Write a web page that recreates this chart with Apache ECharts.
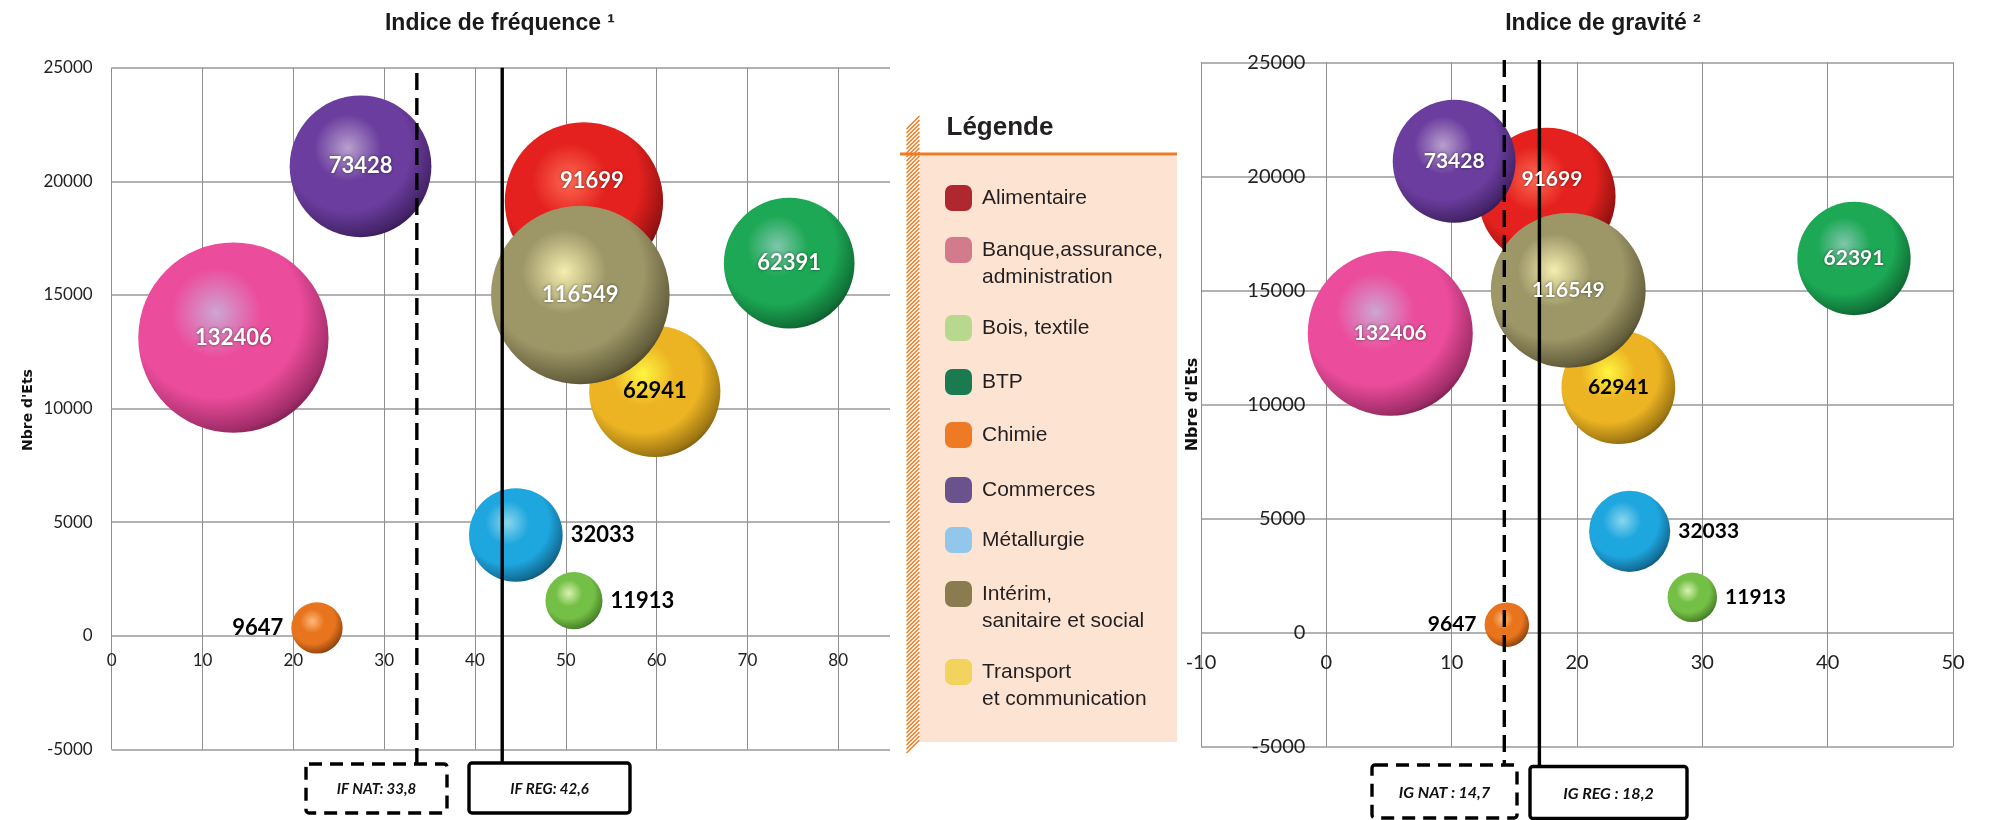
<!DOCTYPE html>
<html>
<head>
<meta charset="utf-8">
<title>Indice de fréquence / Indice de gravité</title>
<script src="https://cdn.jsdelivr.net/npm/echarts@6/dist/echarts.min.js"></script>
<style>
html, body { margin: 0; padding: 0; background: #ffffff; }
#chart { width: 1989px; height: 820px; }
</style>
</head>
<body>
<div id="chart"></div>
<script>
// secteurs, dans l'ordre de la légende
const secteurs = ['Alimentaire', 'Banque,assurance, administration', 'Bois, textile', 'BTP', 'Chimie', 'Commerces', 'Métallurgie', 'Intérim, sanitaire et social', 'Transport et communication']
const libellesLegende = ['Alimentaire', 'Banque,assurance,\nadministration', 'Bois, textile', 'BTP', 'Chimie', 'Commerces', 'Métallurgie', 'Intérim,\nsanitaire et social', 'Transport\net communication']
// taille des bulles (valeur affichée)
const effectifs = [91699, 132406, 11913, 62391, 9647, 73428, 32033, 116549, 62941]
// axe vertical : Nbre d'Ets
const nbEts = [19120, 13120, 1550, 16400, 350, 20660, 4440, 15000, 10760]
// axe horizontal de chaque graphique
const indiceFrequence = [52.0, 13.4, 50.9, 74.6, 22.6, 27.4, 44.5, 51.6, 59.8]
const indiceGravite = [17.6, 5.1, 29.2, 42.1, 14.4, 10.2, 24.2, 19.3, 23.3]
// lignes de référence (nationale, régionale) telles que tracées, et leurs étiquettes
const lignesIF = [33.6, 43.0]
const lignesIG = [14.2, 17.0]
const etiquettesIF = ['IF NAT: 33,8', 'IF REG: 42,6']
const etiquettesIG = ['IG NAT : 14,7', 'IG REG : 18,2']
// graduations
const ticksY = [-5000, 0, 5000, 10000, 15000, 20000, 25000]
const ticksIF = [0, 10, 20, 30, 40, 50, 60, 70, 80]
const ticksIG = [-10, 0, 10, 20, 30, 40, 50]
const maxIF = 85.7

// couleurs
const couleursLegende = ['#B0282F', '#D27B8C', '#B8D98D', '#1A7B50', '#EE7A26', '#6A538C', '#92C6EA', '#8A7B50', '#F2D35E']
const sphere = [ // reflet, base, ombre
	['#FF6A55', '#E4211E', '#300000'],
	['#CDA6D3', '#EC4C9C', '#420628'],
	['#D8F2B0', '#74BF46', '#1E400A'],
	['#7FC6AC', '#1CA854', '#022C14'],
	['#FFB878', '#E8741D', '#401600'],
	['#B8A0CC', '#6B3D9F', '#160628'],
	['#8AD6EC', '#1EA6DF', '#042438'],
	['#F4EEB0', '#9D9667', '#1E1A08'],
	['#FFF640', '#ECB423', '#402C00'],
]
// ordre de dessin (les dernières bulles passent devant)
const ordre = [4, 2, 6, 3, 1, 0, 5, 8, 7]
// étiquettes des bulles
const placement = ['inside', 'inside', 'right', 'inside', 'left', 'inside', 'right', 'inside', 'inside']
const blanc = [true, true, false, true, false, true, false, true, false]

// zones de tracé
const zones = [
	{ left: 111.7, top: 67.7, width: 778.3, height: 681.8 },
	{ left: 1201, top: 62.3, width: 752, height: 684.4 },
]

let myChart = echarts.init(document.getElementById('chart'))

function boule(i) {
	const s = sphere[i]
	return new echarts.graphic.RadialGradient(0.41, 0.37, 0.74, [
		{ offset: 0, color: s[0] },
		{ offset: 0.32, color: s[1] },
		{ offset: 0.6, color: s[1] },
		{ offset: 0.84, color: echarts.color.lerp(0.45, [s[1], s[2]]) },
		{ offset: 1, color: s[2] },
	])
}

function donnees(xs, taille, decalage, etiquettes) {
	return ordre.map(function (i) {
		return {
			name: secteurs[i],
			value: [xs[i], nbEts[i], effectifs[i]],
			itemStyle: { color: etiquettes ? 'rgba(0,0,0,0)' : boule(i), opacity: 1 },
			label: {
				show: etiquettes,
				position: placement[i],
				distance: 8,
				offset: i === 0 ? decalage : [0, 0],
				color: blanc[i] ? '#ffffff' : '#000000',
				textShadowColor: blanc[i] ? 'rgba(0,0,0,0.55)' : 'transparent',
				textShadowBlur: blanc[i] ? 3 : 0,
				fontSize: taille,
			},
		}
	})
}

// bulles, puis une seconde couche pour les étiquettes (au-dessus des lignes)
function bulles(gi, xs, k, taille, decalage, etiquettes) {
	return {
		type: 'scatter',
		xAxisIndex: gi,
		yAxisIndex: gi,
		symbol: 'circle',
		symbolSize: function (val) { return k * Math.sqrt(val[2]) },
		data: donnees(xs, taille, decalage, etiquettes),
		label: {
			fontFamily: 'Lato',
			fontWeight: 'bold',
			formatter: function (p) { return String(p.value[2]) },
		},
		emphasis: { disabled: true },
		silent: etiquettes,
		z: etiquettes ? 8 : 2,
	}
}

// lignes verticales de référence, prolongées jusqu'aux cadres
function lignes(gi, xs, hauts, prolonge) {
	return {
		type: 'custom',
		xAxisIndex: gi,
		yAxisIndex: gi,
		clip: false,
		silent: true,
		z: 5,
		data: xs.map(function (x, j) { return [x, hauts[j], j] }),
		renderItem: function (params, api) {
			const j = api.value(2)
			const haut = api.coord([api.value(0), api.value(1)])
			const bas = api.coord([api.value(0), ticksY[0]])
			return {
				type: 'line',
				shape: { x1: haut[0], y1: haut[1], x2: haut[0], y2: bas[1] + prolonge[j] },
				style: { stroke: '#000', lineWidth: 3.4, lineDash: j === 0 ? [17, 8] : null },
			}
		},
	}
}

// les étiquettes des axes passent par le zéro de l'autre axe
const yMin = ticksY[0], yMax = ticksY[ticksY.length - 1]
function axeX(gi, ticks, max, taille, marge) {
	const z = zones[gi]
	const horsMax = max !== ticks[ticks.length - 1]
	return {
		gridIndex: gi,
		type: 'value',
		min: ticks[0],
		max: max,
		interval: 10,
		position: 'bottom',
		offset: -z.height * (0 - yMin) / (yMax - yMin),
		axisLine: { show: false, onZero: false },
		axisTick: { show: false },
		axisLabel: { showMaxLabel: !horsMax, margin: marge, fontFamily: 'Lato', fontSize: taille, color: '#222' },
		splitLine: { show: true, showMaxLine: !horsMax, lineStyle: { color: '#8E8E8E', width: 1 } },
	}
}

function axeY(gi, xMin, xMax, taille, marge) {
	const z = zones[gi]
	return {
		gridIndex: gi,
		type: 'value',
		min: yMin,
		max: yMax,
		interval: 5000,
		position: 'left',
		offset: -z.width * (0 - xMin) / (xMax - xMin),
		axisLine: { show: false, onZero: false },
		axisTick: { show: false },
		axisLabel: { margin: marge, fontFamily: 'Lato', fontSize: taille, color: '#222', formatter: function (v) { return String(v) } },
		splitLine: { show: true, lineStyle: { color: '#B2B2B2', width: 2 } },
	}
}

// légende dessinée à la main
let graphique = []
for (let y = 116; y < 742; y += 4) {
	graphique.push({ type: 'line', shape: { x1: 906.5, y1: y + 13, x2: 919.5, y2: y }, style: { stroke: '#F07B22', lineWidth: 1.5 } })
}
graphique.push(
	{ type: 'rect', shape: { x: 920, y: 155.5, width: 257, height: 586.5 }, style: { fill: '#FDE4D2' } },
	{ type: 'line', shape: { x1: 900, y1: 154, x2: 1177, y2: 154 }, style: { stroke: '#F07B22', lineWidth: 3 } },
	{ type: 'text', x: 946.5, y: 128, style: { text: 'Légende', fontFamily: 'Liberation Sans', fontWeight: 'bold', fontSize: 26, fill: '#231F20', align: 'left', verticalAlign: 'middle' } }
)
const centresLegende = [198, 250, 328, 382, 435, 490, 540, 594, 672]
libellesLegende.forEach(function (lib, i) {
	const cy = centresLegende[i]
	graphique.push(
		{ type: 'rect', shape: { x: 945, y: cy - 13, width: 27, height: 26, r: 7 }, style: { fill: couleursLegende[i] } },
		{ type: 'text', x: 982, y: cy - 13.5, style: { text: lib, fontFamily: 'Liberation Sans', fontSize: 21, lineHeight: 27, fill: '#231F20', align: 'left', verticalAlign: 'top' } }
	)
})

// titres et noms d'axes
graphique.push(
	{ type: 'text', x: 500, y: 24, style: { text: 'Indice de fréquence ¹', fontFamily: 'Liberation Sans', fontWeight: 'bold', fontSize: 23, fill: '#1A1A1A', align: 'center', verticalAlign: 'middle' } },
	{ type: 'text', x: 1603, y: 24, style: { text: 'Indice de gravité ²', fontFamily: 'Liberation Sans', fontWeight: 'bold', fontSize: 23, fill: '#1A1A1A', align: 'center', verticalAlign: 'middle' } },
	{ type: 'text', x: 28, y: 410, rotation: Math.PI / 2, style: { text: "Nbre d'Ets", fontFamily: 'DejaVu Sans', fontWeight: 'bold', fontSize: 14, fill: '#111', align: 'center', verticalAlign: 'middle' } },
	{ type: 'text', x: 1192.5, y: 404.5, rotation: Math.PI / 2, style: { text: "Nbre d'Ets", fontFamily: 'DejaVu Sans', fontWeight: 'bold', fontSize: 16, fill: '#111', align: 'center', verticalAlign: 'middle' } }
)

// cadres des valeurs de référence
const cadres = [
	{ x: 306, y: 764, w: 141, h: 49, dash: true, t: etiquettesIF[0], fs: 15 },
	{ x: 469, y: 763, w: 161, h: 50, dash: false, t: etiquettesIF[1], fs: 15 },
	{ x: 1372, y: 765, w: 145, h: 53, dash: true, t: etiquettesIG[0], fs: 16 },
	{ x: 1530, y: 766.5, w: 157, h: 52, dash: false, t: etiquettesIG[1], fs: 16 },
]
cadres.forEach(function (c) {
	graphique.push(
		{ type: 'rect', shape: { x: c.x, y: c.y, width: c.w, height: c.h, r: 3 }, style: { fill: '#fff', stroke: '#000', lineWidth: 3.4, lineDash: c.dash ? [13, 8] : null } },
		{ type: 'text', x: c.x + c.w / 2, y: c.y + c.h / 2 + 1, style: { text: c.t, fontFamily: 'Lato', fontWeight: 'bold', fontStyle: 'italic', fontSize: c.fs, fill: '#111', align: 'center', verticalAlign: 'middle' } }
	)
})

let option = {
	animation: false,
	backgroundColor: '#ffffff',
	grid: zones.map(function (z) { return Object.assign({ outerBoundsMode: 'none' }, z) }),
	xAxis: [axeX(0, ticksIF, maxIF, 17, 16), axeX(1, ticksIG, ticksIG[ticksIG.length - 1], 20, 20)],
	yAxis: [axeY(0, ticksIF[0], maxIF, 17, 19), axeY(1, ticksIG[0], ticksIG[ticksIG.length - 1], 20, 21)],
	series: [
		bulles(0, indiceFrequence, 0.523, 22, [8, -20], false),
		bulles(1, indiceGravite, 0.4535, 21, [5, -17], false),
		lignes(0, lignesIF, [24770, 25000], [14.5, 13.5]),
		lignes(1, lignesIG, [25100, 25100], [17, 20]),
		bulles(0, indiceFrequence, 0.523, 22, [8, -20], true),
		bulles(1, indiceGravite, 0.4535, 21, [5, -17], true),
	],
	graphic: graphique,
}
myChart.setOption(option)
</script>
</body>
</html>
